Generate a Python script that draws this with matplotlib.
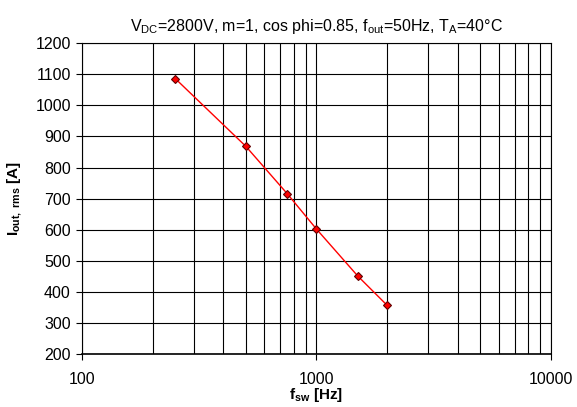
import numpy as np
import matplotlib
matplotlib.use('Agg')
from matplotlib import pyplot as plt
from matplotlib.ticker import FixedLocator, LogLocator, NullFormatter

plt.rcParams['font.family'] = ['Liberation Sans', 'DejaVu Sans']
plt.rcParams['mathtext.fontset'] = 'custom'
plt.rcParams['mathtext.rm'] = 'Liberation Sans'
plt.rcParams['mathtext.it'] = 'Liberation Sans'
plt.rcParams['mathtext.bf'] = 'Liberation Sans:bold'

# switching frequency [Hz] and output current [A]
f_sw = [250, 500, 750, 1000, 1500, 2000]
i_out = [1086, 868, 716, 602, 451, 357]

x_ticks = [100, 1000, 10000]
y_ticks = list(range(200, 1201, 100))

fs = 11.5

fig = plt.figure(figsize=(5.77, 4.07), dpi=100)
ax = fig.add_axes([0.142, 0.130, 0.813, 0.764])

ax.plot(f_sw, i_out, color='red', linewidth=1.0, marker='D', markersize=4.5,
        markerfacecolor='red', markeredgecolor='#600000', markeredgewidth=0.8, zorder=3)

ax.set_xscale('log')
ax.set_xlim(100, 10000)
ax.set_ylim(200, 1200)
ax.xaxis.set_major_locator(FixedLocator(x_ticks))
ax.set_xticklabels([str(v) for v in x_ticks])
ax.xaxis.set_minor_locator(LogLocator(base=10, subs=np.arange(2, 10)))
ax.xaxis.set_minor_formatter(NullFormatter())
ax.set_yticks(y_ticks)

# grid over every decade step and every 100 A
ax.grid(True, which='major', color='black', linewidth=0.8)
ax.grid(True, which='minor', axis='x', color='black', linewidth=0.8)

ax.tick_params(axis='both', which='major', direction='out', length=4, width=0.8,
               labelsize=fs, colors='black')
ax.tick_params(axis='x', which='minor', length=0)
ax.tick_params(axis='x', pad=9)
ax.tick_params(axis='y', pad=4)
for s in ax.spines.values():
    s.set_linewidth(0.8)
ax.spines['bottom'].set_linewidth(1.2)

ax.set_title(r'V$_{\mathrm{DC}}$=2800V, m=1, cos phi=0.85, f$_{\mathrm{out}}$=50Hz, T$_{\mathrm{A}}$=40°C',
             fontsize=fs, pad=9)
ax.set_xlabel(r'$\mathbf{f_{sw}}$ [Hz]', fontsize=11, fontweight='bold', labelpad=-1)
ax.set_ylabel(r'$\mathbf{I_{out,\ rms}}$ [A]', fontsize=11, fontweight='bold', labelpad=8)

plt.savefig('out.png', dpi=100)
